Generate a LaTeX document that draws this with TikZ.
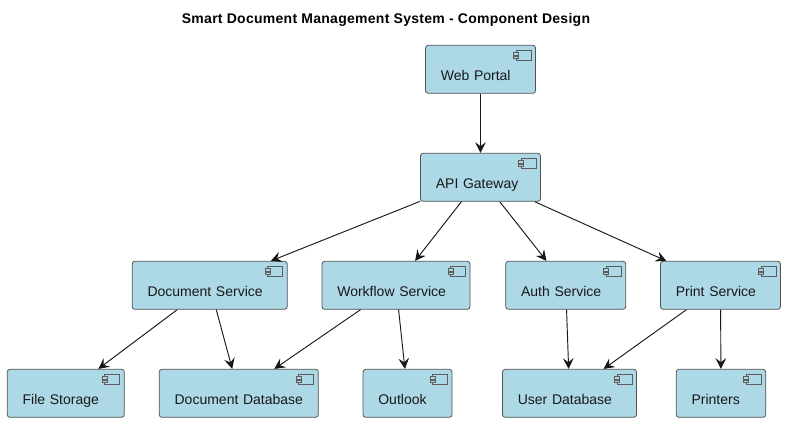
\documentclass[tikz,border=0pt]{standalone}
\usepackage{fontspec}
\setmainfont{Liberation Sans}
\usepackage{xcolor}
\usetikzlibrary{arrows.meta}
\definecolor{compfill}{RGB}{173,216,230}
\definecolor{compline}{RGB}{24,24,24}
\tikzset{
  comp/.style={draw=compline!75, line width=0.6pt, fill=compfill, rounded corners=2pt,
    font=\fontsize{10.5pt}{12pt}\selectfont, text=compline, inner xsep=0pt, inner ysep=0pt,
    text width=#1*0.75pt, align=left, text height=26.25pt, text depth=9.75pt,
    execute at begin node={\hspace*{11.5pt}}},
  link/.style={-{Stealth[length=8pt,width=8pt,inset=3pt]}, draw=compline, line width=0.7pt},
  icon/.style={draw=compline!70, line width=0.5pt, fill=compfill},
}
\begin{document}
\begin{tikzpicture}[x=0.75pt, y=-0.75pt]
  \useasboundingbox (0, 0) rectangle (785, 422);
  % Title
  \node[font=\fontsize{10.5pt}{12pt}\selectfont\bfseries\addfontfeature{LetterSpace=2}] (title) at (386, 20) {Smart Document Management System - Component Design};
  % Top
  \node[comp=110] (web) at (480.5, 69.3) {Web Portal};
  \node[comp=120] (api) at (480.5, 177.3) {API Gateway};
  % Services
  \node[comp=155] (docsvc) at (209.7, 285.3) {Document Service};
  \node[comp=148] (flowsvc) at (396, 285.3) {Workflow Service};
  \node[comp=120] (authsvc) at (565.7, 285.3) {Auth Service};
  \node[comp=120] (printsvc) at (720.5, 285.3) {Print Service};
  % Stores
  \node[comp=117] (files) at (65.8, 393.3) {File Storage};
  \node[comp=159] (docdb) at (238.8, 393.3) {Document Database};
  \node[comp=89] (outlook) at (407.5, 393.3) {Outlook};
  \node[comp=134] (userdb) at (569.5, 393.3) {User Database};
  \node[comp=89.5] (printers) at (721, 393.3) {Printers};
  % Component icons
  \foreach \n in {web, api, docsvc, flowsvc, authsvc, printsvc, files, docdb, outlook, userdb, printers} {
    \draw[icon] ([shift={(-20, 5)}]\n.north east) rectangle ([shift={(-5, 15.5)}]\n.north east);
    \draw[icon] ([shift={(-22.5, 7.5)}]\n.north east) rectangle ([shift={(-17.5, 10)}]\n.north east);
    \draw[icon] ([shift={(-22.5, 11)}]\n.north east) rectangle ([shift={(-17.5, 13.5)}]\n.north east);
  }
  % Links
  \draw[link] (web) -- (api);
  \foreach \n in {docsvc, flowsvc, authsvc, printsvc}
    \draw[link] (api) -- (\n);
  \draw[link] (docsvc) -- (files);
  \draw[link] (docsvc) -- (docdb);
  \draw[link] (flowsvc) -- (docdb);
  \draw[link] (flowsvc) -- (outlook);
  \draw[link] (authsvc) -- (userdb);
  \draw[link] (printsvc) -- (userdb);
  \draw[link] (printsvc) -- (printers);
\end{tikzpicture}
\end{document}
